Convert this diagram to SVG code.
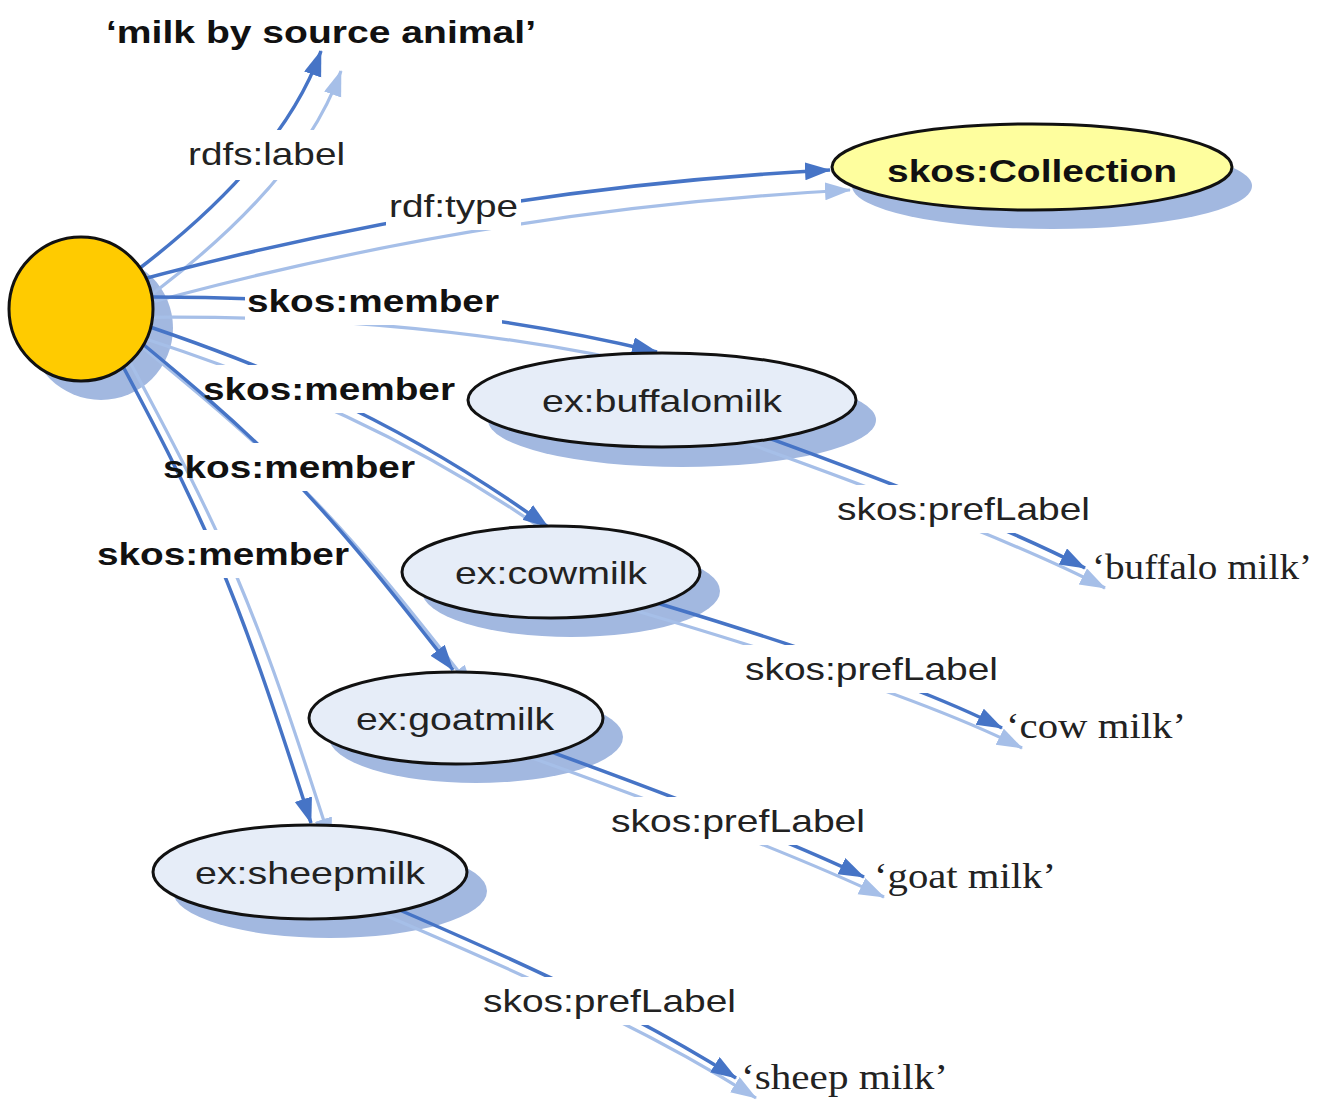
<svg xmlns="http://www.w3.org/2000/svg" xmlns:xlink="http://www.w3.org/1999/xlink" width="1325" height="1103" viewBox="0 0 1325 1103">
<style>
.dk{fill:none;stroke:#4674c6;stroke-width:3.5;marker-end:url(#ad)}
.lt{fill:none;stroke:#a6bfe8;stroke-width:3.2;marker-end:url(#al)}
.sh{fill:#a2b8e0}
.nd{stroke:#111;stroke-width:3}
.mem{fill:#e6edf8}
.sans{font-family:"Liberation Sans",Arial,sans-serif;font-size:32px;fill:#222}
.b{font-weight:bold;fill:#111}
.ser{font-family:"Liberation Serif","Times New Roman",serif;font-size:36px;fill:#222}
</style>
<defs>
<marker id="ad" markerUnits="userSpaceOnUse" markerWidth="28" markerHeight="20" refX="25" refY="9" orient="auto"><path d="M0,0 L26,9 L0,18 z" fill="#4674c6"/></marker>
<marker id="al" markerUnits="userSpaceOnUse" markerWidth="28" markerHeight="20" refX="25" refY="9" orient="auto"><path d="M0,0 L26,9 L0,18 z" fill="#a6bfe8"/></marker>
<path id="p1" d="M82,310 L140,268 Q283,158 321,51"/>
<path id="p2" d="M82,296 Q450,190 830,170"/>
<path id="p3" d="M82,298 Q400,290 657,352"/>
<path id="p4" d="M82,305 C260,360 400,420 548,527"/>
<path id="p5" d="M100,309 C275,451 315,493 453,670"/>
<path id="p6" d="M98,320 C210,527 233,580 311,823"/>
<path id="p7" d="M662,400 C907,486 1020,534 1085,568"/>
<path id="p8" d="M551,572 C807,645 937,695 1002,728"/>
<path id="p9" d="M456,718 C680,797 797,845 864,877"/>
<path id="p10" d="M310,872 C561,977 655,1027 736,1078"/>
<mask id="m1" maskUnits="userSpaceOnUse" x="0" y="0" width="1325" height="1103"><rect width="1325" height="1103" fill="#fff"/><rect x="185" y="130" width="163" height="50" fill="#000"/></mask>
<mask id="m2" maskUnits="userSpaceOnUse" x="0" y="0" width="1325" height="1103"><rect width="1325" height="1103" fill="#fff"/><rect x="386" y="182" width="135" height="48" fill="#000"/></mask>
<mask id="m3" maskUnits="userSpaceOnUse" x="0" y="0" width="1325" height="1103"><rect width="1325" height="1103" fill="#fff"/><rect x="245" y="277" width="257" height="48" fill="#000"/></mask>
<mask id="m4" maskUnits="userSpaceOnUse" x="0" y="0" width="1325" height="1103"><rect width="1325" height="1103" fill="#fff"/><rect x="200" y="365" width="258" height="48" fill="#000"/></mask>
<mask id="m5" maskUnits="userSpaceOnUse" x="0" y="0" width="1325" height="1103"><rect width="1325" height="1103" fill="#fff"/><rect x="160" y="443" width="258" height="48" fill="#000"/></mask>
<mask id="m6" maskUnits="userSpaceOnUse" x="0" y="0" width="1325" height="1103"><rect width="1325" height="1103" fill="#fff"/><rect x="94" y="530" width="259" height="48" fill="#000"/></mask>
<mask id="m7" maskUnits="userSpaceOnUse" x="0" y="0" width="1325" height="1103"><rect width="1325" height="1103" fill="#fff"/><rect x="834" y="485" width="259" height="48" fill="#000"/></mask>
<mask id="m8" maskUnits="userSpaceOnUse" x="0" y="0" width="1325" height="1103"><rect width="1325" height="1103" fill="#fff"/><rect x="742" y="645" width="259" height="48" fill="#000"/></mask>
<mask id="m9" maskUnits="userSpaceOnUse" x="0" y="0" width="1325" height="1103"><rect width="1325" height="1103" fill="#fff"/><rect x="608" y="797" width="260" height="48" fill="#000"/></mask>
<mask id="m10" maskUnits="userSpaceOnUse" x="0" y="0" width="1325" height="1103"><rect width="1325" height="1103" fill="#fff"/><rect x="480" y="977" width="259" height="48" fill="#000"/></mask>
</defs>
<rect width="1325" height="1103" fill="#fff"/>
<g id="shadows" class="sh">
<circle cx="101" cy="328" r="72"/>
<ellipse cx="1052" cy="186" rx="200" ry="43"/>
<ellipse cx="682" cy="420" rx="194" ry="47"/>
<ellipse cx="571" cy="591" rx="149" ry="46"/>
<ellipse cx="476" cy="737" rx="147" ry="46"/>
<ellipse cx="330" cy="891" rx="157" ry="47"/>
</g>
<g id="connectors">
<g id="e1" mask="url(#m1)"><use xlink:href="#p1" class="lt" transform="translate(20,20)"/><use xlink:href="#p1" class="dk"/></g>
<g id="e2" mask="url(#m2)"><use xlink:href="#p2" class="lt" transform="translate(20,20)"/><use xlink:href="#p2" class="dk"/></g>
<g id="e3" mask="url(#m3)"><use xlink:href="#p3" class="lt" transform="translate(20,20)"/><use xlink:href="#p3" class="dk"/></g>
<g id="e4" mask="url(#m4)"><use xlink:href="#p4" class="lt" transform="translate(20,20)"/><use xlink:href="#p4" class="dk"/></g>
<g id="e5" mask="url(#m5)"><use xlink:href="#p5" class="lt" transform="translate(20,20)"/><use xlink:href="#p5" class="dk"/></g>
<g id="e6" mask="url(#m6)"><use xlink:href="#p6" class="lt" transform="translate(20,20)"/><use xlink:href="#p6" class="dk"/></g>
<g id="e7" mask="url(#m7)"><use xlink:href="#p7" class="lt" transform="translate(20,20)"/><use xlink:href="#p7" class="dk"/></g>
<g id="e8" mask="url(#m8)"><use xlink:href="#p8" class="lt" transform="translate(20,20)"/><use xlink:href="#p8" class="dk"/></g>
<g id="e9" mask="url(#m9)"><use xlink:href="#p9" class="lt" transform="translate(20,20)"/><use xlink:href="#p9" class="dk"/></g>
<g id="e10" mask="url(#m10)"><use xlink:href="#p10" class="lt" transform="translate(20,20)"/><use xlink:href="#p10" class="dk"/></g>
</g>
<g id="edge-labels">
<text class="sans" x="188" y="165" textLength="157" lengthAdjust="spacingAndGlyphs">rdfs:label</text>
<text class="sans" x="389" y="217" textLength="129" lengthAdjust="spacingAndGlyphs">rdf:type</text>
<text class="sans b" x="247" y="312" textLength="252" lengthAdjust="spacingAndGlyphs">skos:member</text>
<text class="sans b" x="203" y="400" textLength="252" lengthAdjust="spacingAndGlyphs">skos:member</text>
<text class="sans b" x="163" y="478" textLength="252" lengthAdjust="spacingAndGlyphs">skos:member</text>
<text class="sans b" x="97" y="565" textLength="252" lengthAdjust="spacingAndGlyphs">skos:member</text>
<text class="sans" x="837" y="520" textLength="253" lengthAdjust="spacingAndGlyphs">skos:prefLabel</text>
<text class="sans" x="745" y="680" textLength="253" lengthAdjust="spacingAndGlyphs">skos:prefLabel</text>
<text class="sans" x="611" y="832" textLength="254" lengthAdjust="spacingAndGlyphs">skos:prefLabel</text>
<text class="sans" x="483" y="1012" textLength="253" lengthAdjust="spacingAndGlyphs">skos:prefLabel</text>
</g>
<g id="collection-node">
<circle class="nd" cx="81" cy="309" r="72" fill="#ffcb00"/>
</g>
<g id="label-literal">
<text class="sans b" x="106" y="43" textLength="430" lengthAdjust="spacingAndGlyphs">‘milk by source animal’</text>
</g>
<g id="skos-collection">
<ellipse class="nd" cx="1032" cy="167" rx="200" ry="43" fill="#fefe9e"/>
<text class="sans b" x="887" y="182" textLength="290" lengthAdjust="spacingAndGlyphs">skos:Collection</text>
</g>
<g id="buffalomilk">
<ellipse class="nd mem" cx="662" cy="400" rx="194" ry="47"/>
<text class="sans" x="542" y="412" textLength="240" lengthAdjust="spacingAndGlyphs">ex:buffalomilk</text>
</g>
<g id="cowmilk">
<ellipse class="nd mem" cx="551" cy="572" rx="149" ry="46"/>
<text class="sans" x="455" y="584" textLength="192" lengthAdjust="spacingAndGlyphs">ex:cowmilk</text>
</g>
<g id="goatmilk">
<ellipse class="nd mem" cx="456" cy="718" rx="147" ry="46"/>
<text class="sans" x="356" y="730" textLength="198" lengthAdjust="spacingAndGlyphs">ex:goatmilk</text>
</g>
<g id="sheepmilk">
<ellipse class="nd mem" cx="310" cy="872" rx="157" ry="47"/>
<text class="sans" x="195" y="884" textLength="230" lengthAdjust="spacingAndGlyphs">ex:sheepmilk</text>
</g>
<g id="buffalo-literal"><text class="ser" x="1092" y="579" textLength="220" lengthAdjust="spacingAndGlyphs">‘buffalo milk’</text></g>
<g id="cow-literal"><text class="ser" x="1006" y="738" textLength="180" lengthAdjust="spacingAndGlyphs">‘cow milk’</text></g>
<g id="goat-literal"><text class="ser" x="874" y="888" textLength="182" lengthAdjust="spacingAndGlyphs">‘goat milk’</text></g>
<g id="sheep-literal"><text class="ser" x="741" y="1089" textLength="207" lengthAdjust="spacingAndGlyphs">‘sheep milk’</text></g>
</svg>
